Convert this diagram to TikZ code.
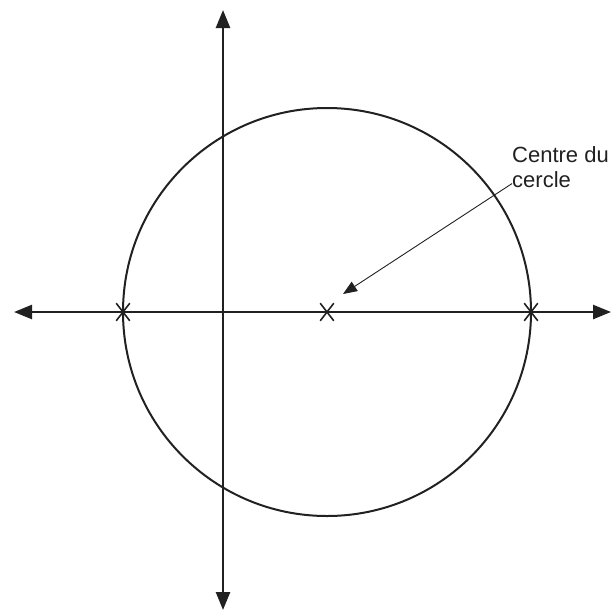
\documentclass[tikz,border=0pt]{standalone}
\usepackage{fontspec}
\setmainfont{Liberation Sans}
\usetikzlibrary{arrows.meta,shapes.misc,positioning}

\begin{document}
\begin{tikzpicture}[x=1pt,y=-1pt,color=black!87,
    axe/.style={line width=2.5pt,
      {Triangle[length=18pt,width=14pt]}-{Triangle[length=18pt,width=14pt]}},
    marque/.style={cross out,draw,line width=1.6pt,minimum width=12pt,
      minimum height=16pt,inner sep=0pt},
    fleche/.style={-{Triangle[length=14pt,width=11pt]},line width=0.9pt}]

  \useasboundingbox (0,0) rectangle (612,611);

  \coordinate (O)  at (327,312);
  \coordinate (Xg) at (14,312);
  \coordinate (Xd) at (611,312);
  \coordinate (Yh) at (223,10);
  \coordinate (Yb) at (223,610);

  \node[draw, circle, minimum size=408pt, inner sep=0pt, outer sep=0pt,
        line width=2pt] (cercle) at (O) {};
  \node[marque] (M0) at (O)            {};
  \node[marque] (M1) at (cercle.west)  {};
  \node[marque] (M2) at (cercle.east)  {};

  \node[anchor=north west, align=left, inner sep=0pt,
        font=\fontsize{22}{25}\selectfont] (legende) at (512,146) {Centre du\\cercle};
  \coordinate (pointe) at (343,294);

  \draw[axe] (Xg) -- (Xd);
  \draw[axe] (Yh) -- (Yb);
  \draw[fleche] ([yshift=4pt]legende.south west) -- (pointe);
\end{tikzpicture}
\end{document}
